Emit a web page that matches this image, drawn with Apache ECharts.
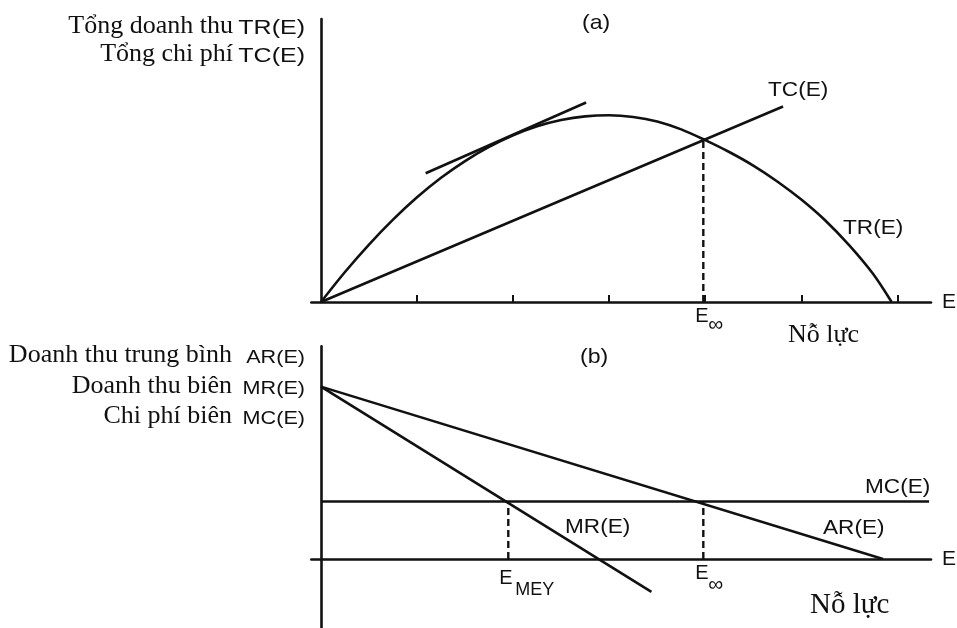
<!DOCTYPE html>
<html>
<head>
<meta charset="utf-8">
<script src="https://cdn.jsdelivr.net/npm/echarts@6/dist/echarts.min.js"></script>
<style>
  html, body { margin: 0; padding: 0; background: #fff; }
  #chart { width: 957px; height: 628px; }
</style>
</head>
<body>
<div id="chart"></div>
<script>
// Effort axis (E), shared by both panels
const E_TICKS = [1, 2, 3, 4, 5, 6];
const E_INF = 3.98;      // open-access effort, E∞
const E_MEY = 1.95;      // effort at maximum economic yield

// Panel (a): total revenue TR(E) and total cost TC(E)
const TR_E   = [0, 0.25, 0.5, 0.75, 1.0, 1.25, 1.5, 1.75, 2.0, 2.25, 2.5, 2.75, 3.0, 3.25, 3.5, 3.75, 4.0, 4.25, 4.5, 4.75, 5.0, 5.25, 5.5, 5.75, 5.94];
const TR_VAL = [0, 1.06, 2.03, 2.91, 3.70, 4.39, 4.98, 5.48, 5.89, 6.21, 6.43, 6.56, 6.60, 6.54, 6.38, 6.10, 5.72, 5.30, 4.82, 4.26, 3.62, 2.88, 2.00, 0.98, 0];
const TC_E   = [0, 4.81];
const TC_VAL = [0, 6.91];
const TANGENT_E   = [1.09, 2.76];
const TANGENT_VAL = [4.55, 7.05];
const E_INF_LEVEL = 5.72;

// Panel (b): average revenue, marginal revenue, marginal cost
const AR_E   = [0, 5.85];
const AR_VAL = [3, 0];
const MR_E   = [0, 3.44];
const MR_VAL = [3, -0.57];
const MC_E   = [0, 6.33];
const MC_VAL = [1, 1];

const INK = '#111';
const SERIF = '"Liberation Serif", "Times New Roman", serif';
const SANS = '"Liberation Sans", Arial, sans-serif';

const pairs = (xs, ys) => xs.map((x, i) => [x, ys[i]]);

function lineSeries(idx, data, opts) {
  return Object.assign({
    type: 'line', xAxisIndex: idx, yAxisIndex: idx, data: data,
    symbol: 'none', silent: true,
    lineStyle: { color: INK, width: 2.6 }
  }, opts || {});
}

const DASHED = { color: INK, width: 2.4, type: [7, 4] };

function xAxisFor(idx, withTicks) {
  return {
    gridIndex: idx, type: 'value', min: -0.1, max: 6.35,
    axisLine: { show: true, onZero: true, lineStyle: { color: INK, width: 2.6 } },
    axisTick: withTicks
      ? { show: true, inside: true, length: 7, customValues: E_TICKS, lineStyle: { color: INK, width: 2 } }
      : { show: false },
    axisLabel: { show: false },
    splitLine: { show: false },
    name: 'E', nameLocation: 'end', nameGap: 11,
    nameTextStyle: { fontFamily: SANS, fontSize: 21, color: INK }
  };
}

function yAxisFor(idx, min, max) {
  return {
    gridIndex: idx, type: 'value', min: min, max: max,
    axisLine: { show: true, onZero: true, lineStyle: { color: INK, width: 2.6 } },
    axisTick: { show: false }, axisLabel: { show: false }, splitLine: { show: false }
  };
}

const chart = echarts.init(document.getElementById('chart'), null, { renderer: 'canvas' });

chart.setOption({
  animation: false,
  backgroundColor: '#fff',
  grid: [
    { left: 311.35, width: 622.4, top: 19, height: 283 },
    { left: 311.35, width: 622.4, top: 346.4, height: 284.2 }
  ],
  xAxis: [xAxisFor(0, true), xAxisFor(1, false)],
  yAxis: [yAxisFor(0, 0, 10), yAxisFor(1, -1.2, 3.7)],
  series: [
    lineSeries(0, pairs(TR_E, TR_VAL), { smooth: 0.3 }),
    lineSeries(0, pairs(TC_E, TC_VAL)),
    lineSeries(0, pairs(TANGENT_E, TANGENT_VAL)),
    lineSeries(0, [[E_INF, 0], [E_INF, E_INF_LEVEL]], { lineStyle: DASHED }),
    lineSeries(1, pairs(AR_E, AR_VAL)),
    lineSeries(1, pairs(MR_E, MR_VAL)),
    lineSeries(1, pairs(MC_E, MC_VAL)),
    lineSeries(1, [[E_MEY, 0], [E_MEY, MC_VAL[0]]], { lineStyle: DASHED }),
    lineSeries(1, [[E_INF, 0], [E_INF, MC_VAL[0]]], { lineStyle: DASHED })
  ]
});

// Text helpers: serif captions and slightly widened sans symbols
function txt(text, x, y, family, size, align, scaleX) {
  return {
    type: 'text', x: x, y: y, scaleX: scaleX || 1, silent: true,
    style: {
      text: text, fontFamily: family, fontSize: size, fill: INK,
      align: align || 'left', verticalAlign: 'middle',
      textAlign: align || 'left', textVerticalAlign: 'middle'
    }
  };
}
const serif = (t, x, y, s, a) => txt(t, x, y, SERIF, s, a, 1);
const sans = (t, x, y, s, a, k) => txt(t, x, y, SANS, s, a, k || 1.13);

const pA = chart.convertToPixel({ gridIndex: 0 }, [E_INF, 0]);
const pB = chart.convertToPixel({ gridIndex: 1 }, [E_INF, 0]);
const pM = chart.convertToPixel({ gridIndex: 1 }, [E_MEY, 0]);

chart.setOption({
  graphic: [
    // panel (a) axis captions
    serif('Tổng doanh thu', 233, 26, 26, 'right'),
    sans('TR(E)', 305, 28, 20, 'right', 1.25),
    serif('Tổng chi phí', 233, 54, 26, 'right'),
    sans('TC(E)', 305, 56, 20, 'right', 1.25),
    sans('(a)', 582, 23, 21, 'left', 1.1),
    sans('TC(E)', 768, 90, 20, 'left'),
    sans('TR(E)', 843, 228, 20, 'left'),
    sans('E', pA[0] - 8, 316, 20, 'left', 1.0),
    sans('∞', pA[0] + 5, 325, 21, 'left', 1.0),
    serif('Nỗ lực', 788, 335, 26, 'left'),

    // panel (b) axis captions
    serif('Doanh thu trung bình', 232, 355, 26, 'right'),
    sans('AR(E)', 305, 358, 18, 'right', 1.2),
    serif('Doanh thu biên', 232, 386, 26, 'right'),
    sans('MR(E)', 305, 389, 18, 'right', 1.2),
    serif('Chi phí biên', 232, 416, 26, 'right'),
    sans('MC(E)', 305, 419, 18, 'right', 1.2),
    sans('(b)', 580, 357, 21, 'left', 1.1),
    sans('MC(E)', 865, 487, 20, 'left'),
    sans('AR(E)', 823, 528, 20, 'left'),
    sans('MR(E)', 565, 527, 20, 'left'),
    sans('E', pM[0] - 9, 578, 20, 'left', 1.0),
    sans('MEY', pM[0] + 7, 590, 18, 'left', 1.0),
    sans('E', pB[0] - 8, 573, 20, 'left', 1.0),
    sans('∞', pB[0] + 5, 585, 21, 'left', 1.0),
    serif('Nỗ lực', 810, 605, 29, 'left')
  ]
});
</script>
</body>
</html>
